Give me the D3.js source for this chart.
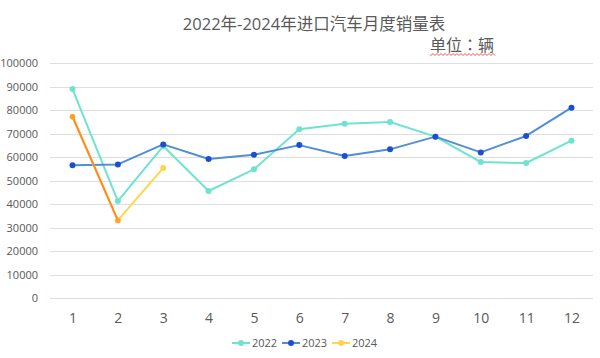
<!DOCTYPE html>
<html><head><meta charset="utf-8">
<script src="https://cdn.jsdelivr.net/npm/d3@7"></script>
<style>body{margin:0;background:#fff}svg{display:block}</style>
</head><body>
<svg id="c" width="600" height="358"></svg>
<script>
const months = [1,2,3,4,5,6,7,8,9,10,11,12];
const yTicks = [0,10000,20000,30000,40000,50000,60000,70000,80000,90000,100000];
const seriesNames = ["2022","2023","2024"];
const v2022 = [88900,41300,64700,45600,54800,71800,74200,74900,68700,57900,57500,67000];
const v2023 = [56500,56900,65400,59200,61000,65100,60500,63300,68700,62000,69000,81000];
const v2024 = [77200,33100,55400];
const highlight2024Months = [1,2];
const titleText = "2022年-2024年进口汽车月度销量表";
const unitText = "单位：辆";

const svg = d3.select("#c");
const font = "'Open Sans','Noto Sans','Noto Sans CJK SC',sans-serif";
const x = d3.scalePoint().domain(months).range([72.5,571.5]);
const y = d3.scaleLinear().domain([0,100000]).range([298.3,63]);

// gridlines + y labels
const yAxis = d3.axisLeft(y).tickValues(yTicks).tickSize(0).tickPadding(0).tickFormat(d3.format("d"));
const gy = svg.append("g").attr("transform","translate(38,0)").call(yAxis);
gy.select(".domain").remove();
gy.selectAll("text").attr("font-size",11).attr("fill","#595959").attr("font-family",font);
svg.append("g").selectAll("line").data(yTicks).join("line")
  .attr("x1",50).attr("x2",593).attr("y1",d=>Math.round(y(d))+0.5).attr("y2",d=>Math.round(y(d))+0.5)
  .attr("stroke","#dedede").attr("stroke-width",1);

// x labels
const xAxis = d3.axisBottom(x).tickSize(0).tickPadding(0);
const gx = svg.append("g").attr("transform","translate(0,310)").call(xAxis);
gx.select(".domain").remove();
gx.selectAll("text").attr("font-size",14).attr("fill","#595959").attr("font-family",font).attr("dy","0.9em");

// title
svg.append("text").attr("x",314).attr("y",30).attr("text-anchor","middle")
  .attr("font-size",16.5).attr("fill","#595959").attr("font-family",font).text(titleText);
svg.append("text").attr("x",430).attr("y",51).attr("font-size",16).attr("fill","#595959")
  .attr("font-family","'Noto Sans CJK TC','Noto Sans CJK SC',sans-serif").text(unitText);
// spellcheck-like wavy underline
let wp = "M430,54.5";
for(let i=430;i<495;i+=2){ wp += ` L${i+1},${(i/2)%2===0?53.5:55.5}`; }
svg.append("path").attr("d",wp).attr("fill","none").attr("stroke","#e03030").attr("stroke-width",0.8);

const line = d3.line().x(d=>x(d.m)).y(d=>y(d.v));
function drawSeries(vals, lineColor, dotColor, r){
  const data = vals.map((v,i)=>({m:months[i],v}));
  svg.append("path").datum(data).attr("d",line).attr("fill","none")
    .attr("stroke",lineColor).attr("stroke-width",2).attr("stroke-linejoin","round");
  svg.append("g").selectAll("circle").data(data).join("circle")
    .attr("cx",d=>x(d.m)).attr("cy",d=>y(d.v)).attr("r",r).attr("fill",dotColor);
}
drawSeries(v2022,"#6fe3d0","#6fe3d0",3);
drawSeries(v2023,"#4f8fd8","#1c4fd0",3);
drawSeries(v2024,"#ffd54f","#ffd54f",3);
// highlighted 2024 segment
const hi = highlight2024Months.map(m=>({m, v:v2024[months.indexOf(m)]}));
svg.append("path").datum(hi).attr("d",line).attr("fill","none").attr("stroke","#ff8a1f").attr("stroke-width",2);
svg.append("g").selectAll("circle").data(hi).join("circle")
  .attr("cx",d=>x(d.m)).attr("cy",d=>y(d.v)).attr("r",2.6).attr("fill","#ffa030");

// legend
const legend = [
  {name:seriesNames[0], line:"#6fe3d0", dot:"#6fe3d0", x:232},
  {name:seriesNames[1], line:"#4f8fd8", dot:"#1c4fd0", x:282},
  {name:seriesNames[2], line:"#ffd54f", dot:"#ffd54f", x:332}
];
const lg = svg.append("g").selectAll("g").data(legend).join("g").attr("transform",d=>`translate(${d.x},343)`);
lg.append("line").attr("x1",0).attr("x2",18).attr("stroke",d=>d.line).attr("stroke-width",2);
lg.append("circle").attr("cx",9).attr("r",3).attr("fill",d=>d.dot);
lg.append("text").attr("x",20).attr("y",4).attr("font-size",11).attr("fill","#595959")
  .attr("font-family",font).text(d=>d.name);
</script>
</body></html>
